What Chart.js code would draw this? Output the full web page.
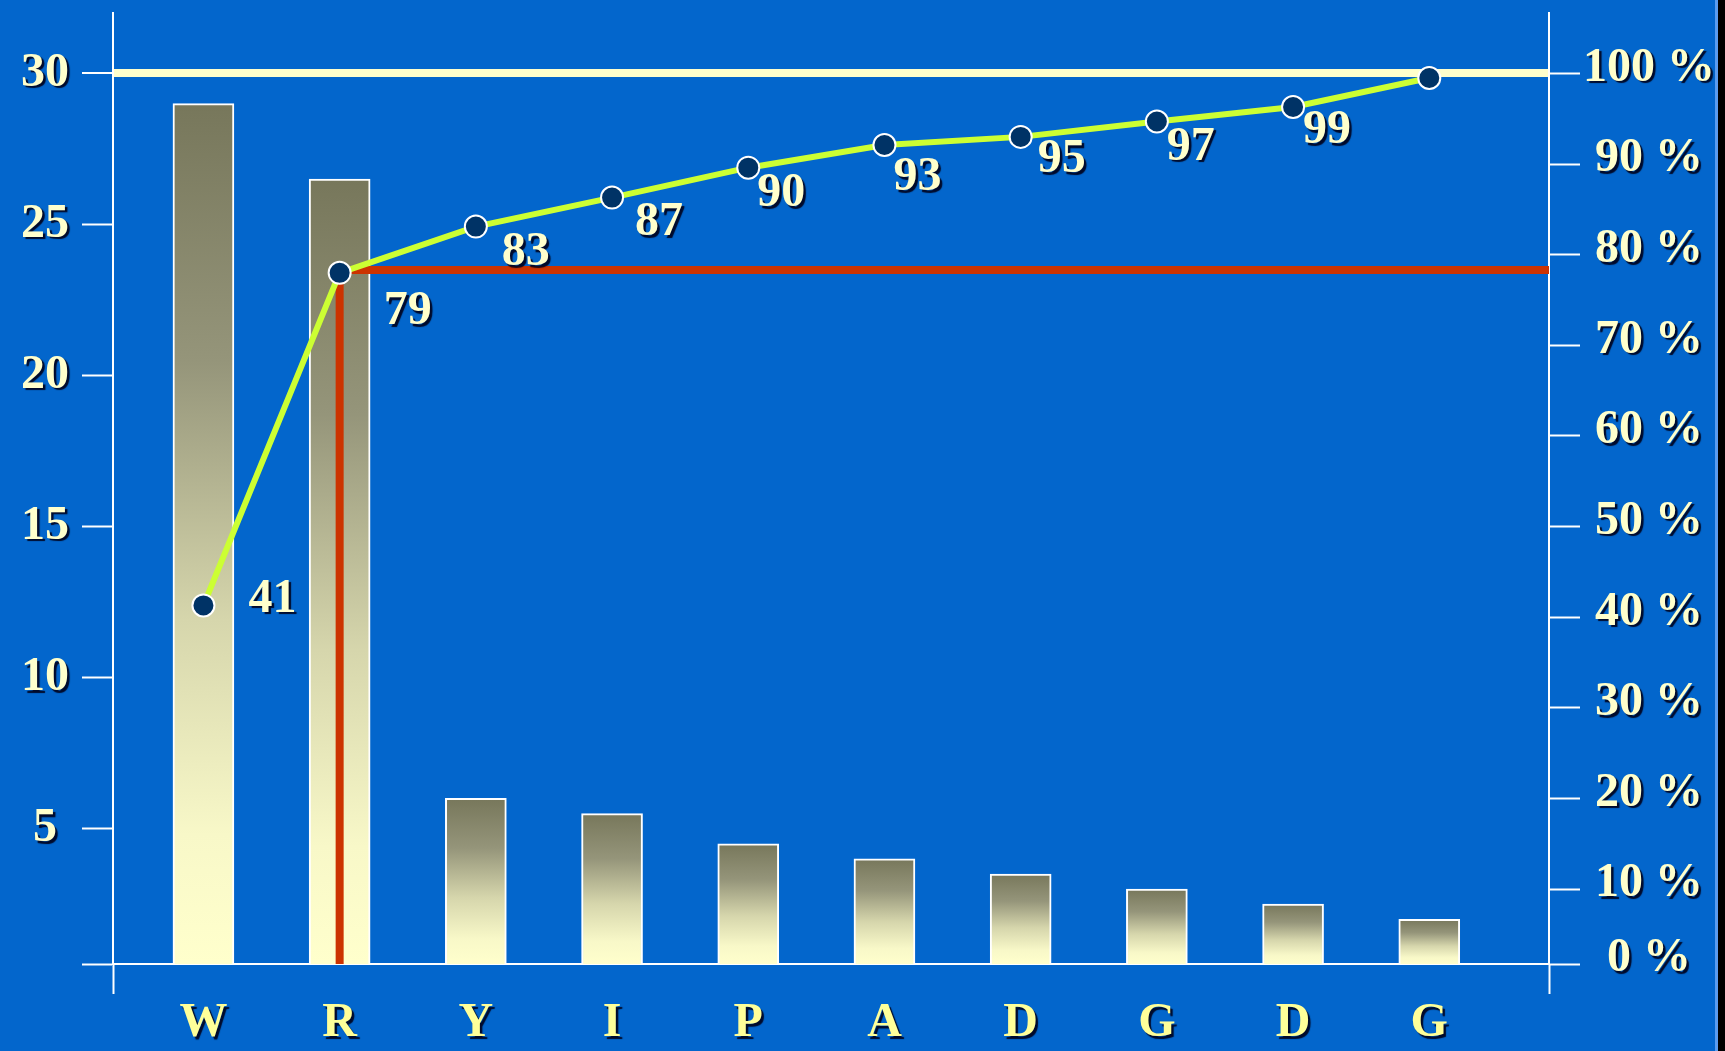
<!DOCTYPE html>
<html>
<head>
<meta charset="utf-8">
<title>Pareto</title>
<script src="https://cdn.jsdelivr.net/npm/chart.js@4.4.1/dist/chart.umd.min.js"></script>
<style>
  html, body { margin: 0; padding: 0; background: #000; }
  #wrap { width: 1715px; height: 1051px; background: #0366cc; border-right: 3px solid #5b9cf0; }
  canvas { display: block; }
</style>
</head>
<body>
<div id="wrap"><canvas id="paretoChart" width="1715" height="1051"></canvas></div>
<script>
// categories along the bottom
const categories = ['W', 'R', 'Y', 'I', 'P', 'A', 'D', 'G', 'D', 'G'];
// bar heights (left axis)
const counts = [29, 26.5, 6, 5.5, 4.5, 4, 3.5, 3, 2.5, 2];
// cumulative percentage as plotted (right axis)
const cumulative = [41.3, 78.0, 83.1, 86.3, 89.6, 92.1, 93.0, 94.7, 96.3, 99.5];
// numbers written next to the points
const cumulativeLabels = ['41', '79', '83', '87', '90', '93', '95', '97', '99', ''];
// tick values
const countTicks = [5, 10, 15, 20, 25, 30];
const percentTicks = [10, 20, 30, 40, 50, 60, 70, 80, 90, 100];
// the red cut-off, starting at the second category
const cutoffPercent = 78.3;
const cutoffIndex = 1;

// axis ranges (the drawn axes run a bit past the labelled ticks)
const X_MIN = -0.664, X_MAX = 9.879;
const COUNT_MIN = 0.52, COUNT_MAX = 32;
const PCT_MIN = 1.73, PCT_MAX = 106.67;

const SERIF = '"Liberation Serif", "Times New Roman", serif';
const FONT_SIZE = 48;
const CREAM = '#ffffcc';
const WHITE = '#ffffff';
const CLEAR = 'rgba(0,0,0,0)';

function barGradient(ctx) {
    const chart = ctx.chart;
    if (!chart.chartArea || ctx.type !== 'data') return '#9a9a7c';
    const yScale = chart.scales.y;
    const top = yScale.getPixelForValue(ctx.parsed.y);
    const bottom = yScale.getPixelForValue(yScale.min);
    const g = chart.ctx.createLinearGradient(0, top, 0, bottom);
    g.addColorStop(0, '#77775b');
    g.addColorStop(0.3, '#95957a');
    g.addColorStop(0.6, '#d6d6ac');
    g.addColorStop(0.85, '#f8f8c8');
    g.addColorStop(1, '#ffffcc');
    return g;
}

// tick labels get the same dark drop shadow as the slide text
const shadowLabels = {
    id: 'shadowLabels',
    beforeDraw(chart) {
        Object.values(chart.scales).forEach(scale => {
            if (scale._shadowPatched) return;
            const orig = scale.drawLabels;
            const lift = scale.id === 'y2' ? -5 : 0;
            scale.drawLabels = function (area) {
                const c = this.ctx;
                c.save();
                c.shadowColor = 'rgba(0,0,25,0.9)';
                c.shadowOffsetX = 2.5;
                c.shadowOffsetY = 2.5;
                c.shadowBlur = 1;
                c.translate(0, lift);
                orig.call(this, area);
                c.restore();
            };
            scale._shadowPatched = true;
        });
    }
};

// numbers beside the cumulative points
const pointLabels = {
    id: 'pointLabels',
    afterDatasetsDraw(chart, args, opts) {
        const meta = chart.getDatasetMeta(2);
        const c = chart.ctx;
        c.save();
        c.font = 'bold ' + FONT_SIZE + 'px ' + SERIF;
        c.fillStyle = CREAM;
        c.textAlign = 'center';
        c.textBaseline = 'middle';
        c.shadowColor = 'rgba(0,0,25,0.9)';
        c.shadowOffsetX = 2.5;
        c.shadowOffsetY = 2.5;
        c.shadowBlur = 1;
        meta.data.forEach((pt, i) => {
            const text = cumulativeLabels[i];
            if (!text) return;
            const off = opts.offsets[i] || [40, 25];
            c.fillText(text, pt.x + off[0], pt.y + off[1]);
        });
        c.restore();
    }
};

const ctx = document.getElementById('paretoChart').getContext('2d');
const chart = new Chart(ctx, {
    type: 'bar',
    data: {
        datasets: [{
            type: 'bar',
            data: counts.map((v, i) => ({ x: i, y: v })),
            xAxisID: 'x',
            yAxisID: 'y',
            backgroundColor: barGradient,
            borderColor: WHITE,
            borderWidth: 2,
            borderSkipped: 'start',
            barThickness: 61,
            order: 3
        }, {
            type: 'line',
            data: [
                { x: cutoffIndex, y: PCT_MIN },
                { x: cutoffIndex, y: cutoffPercent },
                { x: X_MAX, y: cutoffPercent }
            ],
            xAxisID: 'x',
            yAxisID: 'y2',
            borderColor: '#cc3300',
            borderWidth: 8,
            borderJoinStyle: 'miter',
            borderCapStyle: 'butt',
            pointRadius: 0,
            fill: false,
            order: 2
        }, {
            type: 'line',
            data: cumulative.map((v, i) => ({ x: i, y: v })),
            xAxisID: 'x',
            yAxisID: 'y2',
            borderColor: '#ccff33',
            borderWidth: 6,
            tension: 0,
            fill: false,
            pointRadius: 11,
            pointBackgroundColor: '#003366',
            pointBorderColor: WHITE,
            pointBorderWidth: 2,
            order: 1
        }]
    },
    options: {
        responsive: false,
        animation: false,
        devicePixelRatio: 1,
        layout: { padding: { top: 11, left: 0, right: 0, bottom: 0 } },
        plugins: {
            legend: { display: false },
            tooltip: { enabled: false },
            pointLabels: {
                offsets: [[69, -6], [68, 39], [50, 26], [47, 25], [33, 26], [33, 33], [41, 23], [34, 26], [34, 24]]
            }
        },
        scales: {
            x: {
                type: 'linear',
                position: 'bottom',
                offset: false,
                min: X_MIN,
                max: X_MAX,
                afterBuildTicks: scale => {
                    scale.ticks = [{ value: X_MIN }].concat(categories.map((c, i) => ({ value: i })), [{ value: X_MAX }]);
                },
                afterFit: scale => {
                    scale.height = 87;
                    scale.paddingLeft = 0;
                    scale.paddingRight = 0;
                },
                grid: {
                    offset: false,
                    drawOnChartArea: false,
                    drawTicks: true,
                    tickLength: 30,
                    tickWidth: 2,
                    tickColor: c => (c.tick && (c.tick.value === X_MIN || c.tick.value === X_MAX)) ? WHITE : CLEAR
                },
                border: { display: true, color: WHITE, width: 2 },
                ticks: {
                    autoSkip: false,
                    maxRotation: 0,
                    padding: 1,
                    color: '#ffff99',
                    font: { family: SERIF, size: FONT_SIZE, weight: 'bold' },
                    callback: v => (Number.isInteger(v) && v >= 0 && v < categories.length) ? categories[v] : ''
                }
            },
            y: {
                type: 'linear',
                position: 'left',
                min: COUNT_MIN,
                max: COUNT_MAX,
                afterBuildTicks: scale => {
                    scale.ticks = [{ value: COUNT_MIN }].concat(countTicks.map(v => ({ value: v })));
                },
                afterFit: scale => {
                    scale.width = 113;
                    scale.paddingTop = 0;
                    scale.paddingBottom = 0;
                },
                grid: {
                    drawOnChartArea: true,
                    drawTicks: true,
                    tickLength: 31,
                    tickWidth: 2,
                    tickColor: WHITE,
                    color: c => (c.tick && c.tick.value === 30) ? CREAM : CLEAR,
                    lineWidth: c => (c.tick && c.tick.value === 30) ? 8 : 1
                },
                border: { display: true, color: WHITE, width: 2 },
                ticks: {
                    crossAlign: 'center',
                    padding: 13,
                    color: CREAM,
                    font: { family: SERIF, size: FONT_SIZE, weight: 'bold' },
                    callback: v => v === COUNT_MIN ? '' : String(v)
                }
            },
            y2: {
                type: 'linear',
                position: 'right',
                min: PCT_MIN,
                max: PCT_MAX,
                afterBuildTicks: scale => {
                    scale.ticks = [{ value: PCT_MIN }].concat(percentTicks.map(v => ({ value: v })));
                },
                afterFit: scale => {
                    scale.width = 166;
                    scale.paddingTop = 0;
                    scale.paddingBottom = 0;
                },
                grid: {
                    drawOnChartArea: false,
                    drawTicks: true,
                    tickLength: 31,
                    tickWidth: 2,
                    tickColor: WHITE
                },
                border: { display: true, color: WHITE, width: 2 },
                ticks: {
                    crossAlign: 'center',
                    padding: 3,
                    color: CREAM,
                    font: { family: SERIF, size: FONT_SIZE, weight: 'bold' },
                    callback: v => v === PCT_MIN ? '0 %' : v + ' %'
                }
            }
        }
    },
    plugins: [shadowLabels, pointLabels]
});
</script>
</body>
</html>
